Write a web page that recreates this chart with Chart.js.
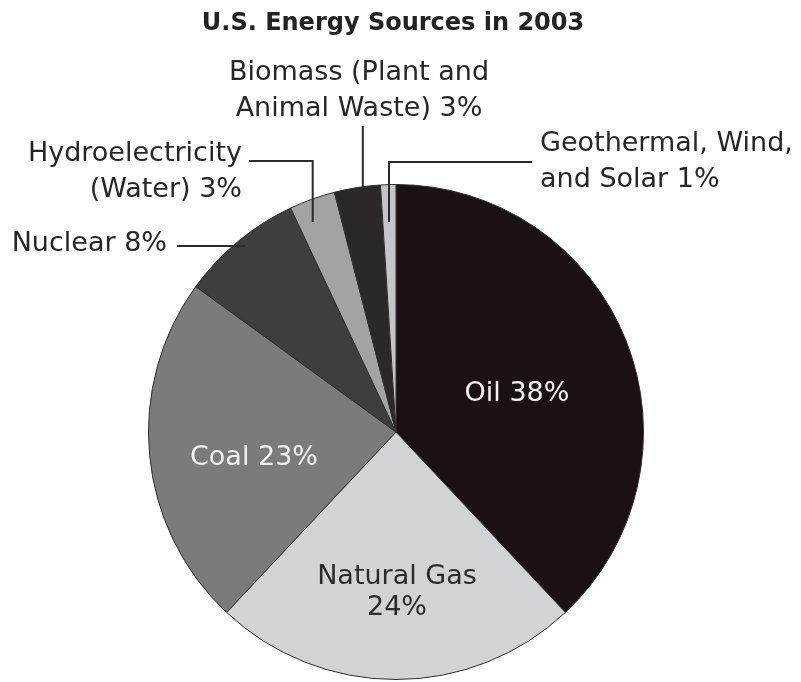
<!DOCTYPE html>
<html>
<head>
<meta charset="utf-8">
<title>U.S. Energy Sources in 2003</title>
<script src="https://cdn.jsdelivr.net/npm/chart.js@4.4.1/dist/chart.umd.min.js"></script>
<style>
  html, body { margin: 0; padding: 0; background: #fff; }
  #wrap { width: 801px; height: 682px; position: relative; }
</style>
</head>
<body>
<div id="wrap"><canvas id="chart" width="801" height="682"></canvas></div>
<script>
// Chart data (percent of total).
var sources = ['Oil', 'Natural Gas', 'Coal', 'Nuclear', 'Hydroelectricity', 'Biomass', 'Geothermal, Wind, and Solar'];
var shares = [38, 24, 23, 8, 3, 3, 1];
var fills = ['#1b1113', '#d3d2d7', '#7b7b7b', '#403d3d', '#a3a3a3', '#2d2828', '#c5c5c9'];

// Label text for each slice, one entry per line.
var labelLines = [
  ['Oil 38%'],
  ['Natural Gas', '24%'],
  ['Coal 23%'],
  ['Nuclear 8%'],
  ['Hydroelectricity', '(Water) 3%'],
  ['Biomass (Plant and', 'Animal Waste) 3%'],
  ['Geothermal, Wind,', 'and Solar 1%']
];

var LABEL_FONT = '27px "DejaVu Sans", sans-serif';

// Where each label sits. Inside labels get a colour, outside labels a leader line.
//   frac: where along the slice the leader points (0 = start, 1 = end)
//   tipY: how far down the leader goes (canvas y)
//   lineY: height of the horizontal part of an elbow leader
var labelLayout = [
  { inside: true, x: 517, y: 394, color: '#f2f2f2' },
  { inside: true, x: 397, y: 577, color: '#2b2b2b' },
  { inside: true, x: 254, y: 458, color: '#f0f0f0' },
  { x: 167, y: 244, align: 'right', leader: 'horizontal', frac: 0.52 },
  { x: 242, y: 154, align: 'right', leader: 'elbow', frac: 0.33, lineY: 161, tipY: 222 },
  { x: 359, y: 73, align: 'center', leader: 'vertical', frac: 0.61, tipY: 190 },
  { x: 540, y: 144, align: 'left', leader: 'elbow', frac: 0.47, lineY: 162, tipY: 222 }
];

// Draws title, slice labels and leader lines.
var labelPlugin = {
  id: 'sliceLabels',
  afterDraw: function(chart) {
    var ctx = chart.ctx;
    var arcs = chart.getDatasetMeta(0).data;

    ctx.save();

    // Title.
    ctx.fillStyle = '#222';
    ctx.font = 'bold 24px "DejaVu Sans", sans-serif';
    ctx.textAlign = 'center';
    ctx.textBaseline = 'middle';
    ctx.fillText('U.S. Energy Sources in 2003', 393, 24);

    ctx.font = LABEL_FONT;
    var lineGap = 36;

    labelLayout.forEach(function(lay, i) {
      var lines = labelLines[i];

      if (lay.inside) {
        ctx.fillStyle = lay.color;
        ctx.textAlign = 'center';
        lines.forEach(function(txt, k) {
          ctx.fillText(txt, lay.x, lay.y + k * 31);
        });
        return;
      }

      ctx.fillStyle = '#262626';
      ctx.textAlign = lay.align;
      lines.forEach(function(txt, k) {
        ctx.fillText(txt, lay.x, lay.y + k * lineGap);
      });

      // Leader follows a ray from the pie centre through the slice.
      var p = arcs[i].getProps(['x', 'y', 'startAngle', 'endAngle']);
      var ang = p.startAngle + lay.frac * (p.endAngle - p.startAngle);
      var c = Math.cos(ang), s = Math.sin(ang);

      ctx.strokeStyle = '#2a2a2a';
      ctx.lineWidth = 2;
      ctx.beginPath();
      if (lay.leader === 'horizontal') {
        var hx = p.x + c / s * (lay.y + 2 - p.y);
        ctx.moveTo(lay.x + 10, lay.y + 2);
        ctx.lineTo(hx, lay.y + 2);
      } else if (lay.leader === 'vertical') {
        var vx = p.x + c / s * (lay.tipY - p.y);
        var bottom = lay.y + (lines.length - 1) * lineGap + 17;
        ctx.moveTo(vx, bottom);
        ctx.lineTo(vx, lay.tipY);
      } else {
        var ex = p.x + c / s * (lay.tipY - p.y);
        var sx = lay.align === 'right' ? lay.x + 7 : lay.x - 8;
        ctx.moveTo(sx, lay.lineY);
        ctx.lineTo(ex, lay.lineY);
        ctx.lineTo(ex, lay.tipY);
      }
      ctx.stroke();
    });

    ctx.restore();
  }
};

new Chart(document.getElementById('chart'), {
  type: 'pie',
  data: {
    labels: sources,
    datasets: [{
      data: shares,
      backgroundColor: fills,
      borderColor: '#2e2e2e',
      borderWidth: 1
    }]
  },
  options: {
    responsive: false,
    animation: false,
    layout: {
      padding: { left: 148, right: 157, top: 184, bottom: 2 }
    },
    plugins: {
      legend: { display: false },
      title: { display: false },
      tooltip: { enabled: false }
    }
  },
  plugins: [labelPlugin]
});
</script>
</body>
</html>
